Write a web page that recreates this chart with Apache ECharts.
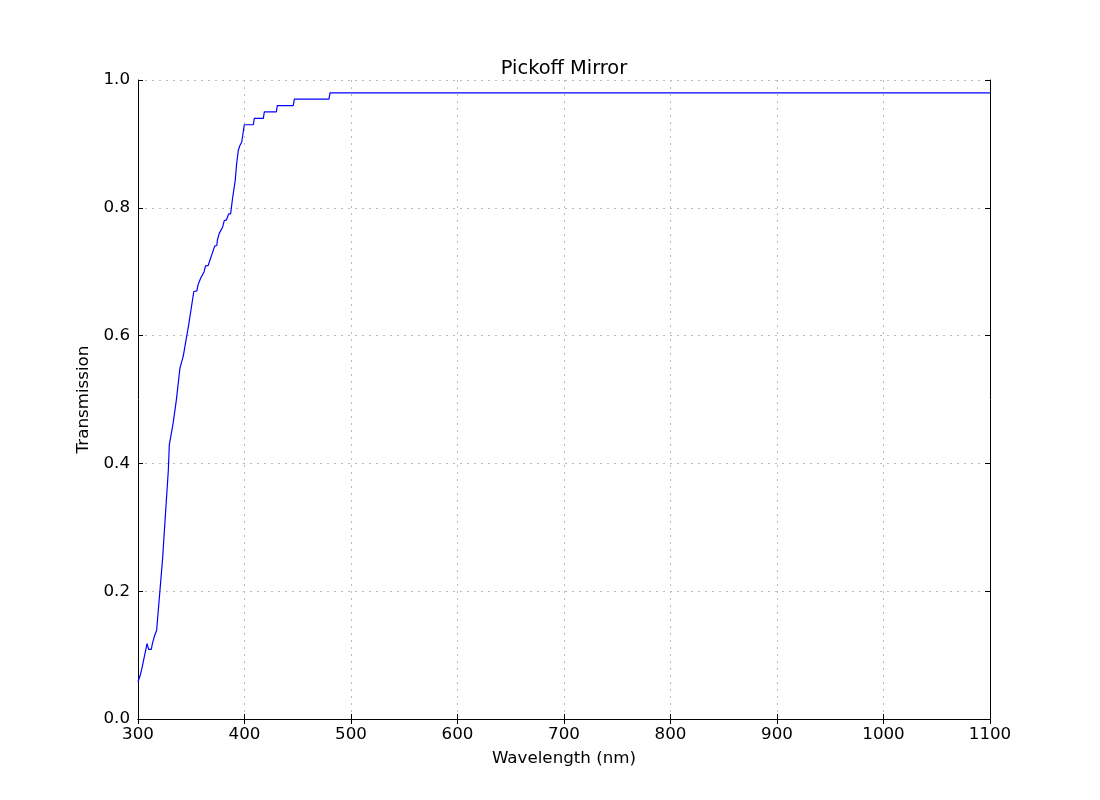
<!DOCTYPE html>
<html>
<head>
<meta charset="utf-8">
<script src="https://cdn.jsdelivr.net/npm/echarts@6/dist/echarts.min.js"></script>
<style>html,body{margin:0;padding:0;background:#fff}#c{width:1100px;height:800px}</style>
</head>
<body>
<div id="c"></div>
<script>
const wavelength = [300, 302, 303.5, 305, 308.5, 310, 312.5, 313.5, 314.5, 315.5, 316.5, 317.5, 323, 328.5, 329.4, 330.5, 333, 336, 339.4, 340.5, 342.5, 343.5, 347.7, 348.7, 352.4, 355.3, 356.3, 357.5, 358.9, 360.5, 362.1, 363.4, 366, 367.5, 369.8, 371, 372, 374, 374.6, 375.5, 376.3, 378, 379.5, 380, 381, 383, 385, 387, 388.8, 391.3, 392.6, 394.2, 395.8, 397.4, 399.8, 408.3, 409.2, 417.7, 418.6, 429.9, 430.8, 445.8, 446.8, 479.3, 480.3, 1100];
const transmission = [0.058, 0.068, 0.078, 0.080, 0.118, 0.109, 0.109, 0.118, 0.12, 0.13, 0.131, 0.139, 0.249, 0.39, 0.429, 0.43, 0.463, 0.499, 0.549, 0.55, 0.568, 0.57, 0.618, 0.62, 0.669, 0.67, 0.679, 0.68, 0.69, 0.69, 0.70, 0.709, 0.71, 0.718, 0.729, 0.73, 0.74, 0.741, 0.75, 0.75, 0.76, 0.761, 0.77, 0.77, 0.78, 0.781, 0.79, 0.791, 0.815, 0.843, 0.869, 0.89, 0.898, 0.903, 0.93, 0.93, 0.94, 0.94, 0.95, 0.95, 0.96, 0.96, 0.97, 0.97, 0.98, 0.98];
const xTicks = [300, 400, 500, 600, 700, 800, 900, 1000, 1100];
const yTicks = [0.0, 0.2, 0.4, 0.6, 0.8, 1.0];

const font = 'DejaVu Sans';
const chart = echarts.init(document.getElementById('c'), null, {renderer: 'canvas'});
const data = wavelength.map((w, i) => [w, transmission[i]]);
const axLine = {show: true, lineStyle: {color: '#000', width: 1}};
const tick = {show: true, inside: true, length: 5, lineStyle: {color: '#000', width: 1}};
chart.setOption({
  animation: false,
  backgroundColor: '#fff',
  title: {text: 'Pickoff Mirror', left: 559, textAlign: 'center', top: 54, textStyle: {fontFamily: font, fontSize: 19.4, fontWeight: 'normal', color: '#000'}},
  grid: {left: 138, right: 110, top: 80, bottom: 81},
  xAxis: [{
    type: 'value', min: 300, max: 1100, interval: 100,
    name: 'Wavelength (nm)', nameLocation: 'middle', nameGap: 31,
    nameTextStyle: {fontFamily: font, fontSize: 16.7, color: '#000'},
    axisLine: axLine, axisTick: tick,
    axisLabel: {fontFamily: font, fontSize: 16.7, color: '#000', margin: 7, formatter: v => xTicks.includes(v) ? String(v) : ''},
    splitLine: {show: true, lineStyle: {color: '#bbb', type: [2, 5], width: 1}}
  }, {
    type: 'value', min: 300, max: 1100, interval: 100, position: 'top',
    axisLine: axLine, axisTick: tick, axisLabel: {show: false}, splitLine: {show: false}
  }],
  yAxis: [{
    type: 'value', min: 0, max: 1, interval: 0.2,
    name: 'Transmission', nameLocation: 'middle', nameGap: 40,
    nameTextStyle: {fontFamily: font, fontSize: 16.7, color: '#000'},
    axisLine: axLine, axisTick: tick,
    axisLabel: {fontFamily: font, fontSize: 16.7, color: '#000', margin: 8, formatter: v => v.toFixed(1)},
    splitLine: {show: true, lineStyle: {color: '#bbb', type: [2, 5], width: 1}}
  }, {
    type: 'value', min: 0, max: 1, interval: 0.2, position: 'right',
    axisLine: axLine, axisTick: tick, axisLabel: {show: false}, splitLine: {show: false}
  }],
  series: [{
    type: 'line', data: data, showSymbol: false, symbol: 'none',
    lineStyle: {color: '#0000ff', width: 1.2}, clip: true
  }]
});
</script>
</body>
</html>
